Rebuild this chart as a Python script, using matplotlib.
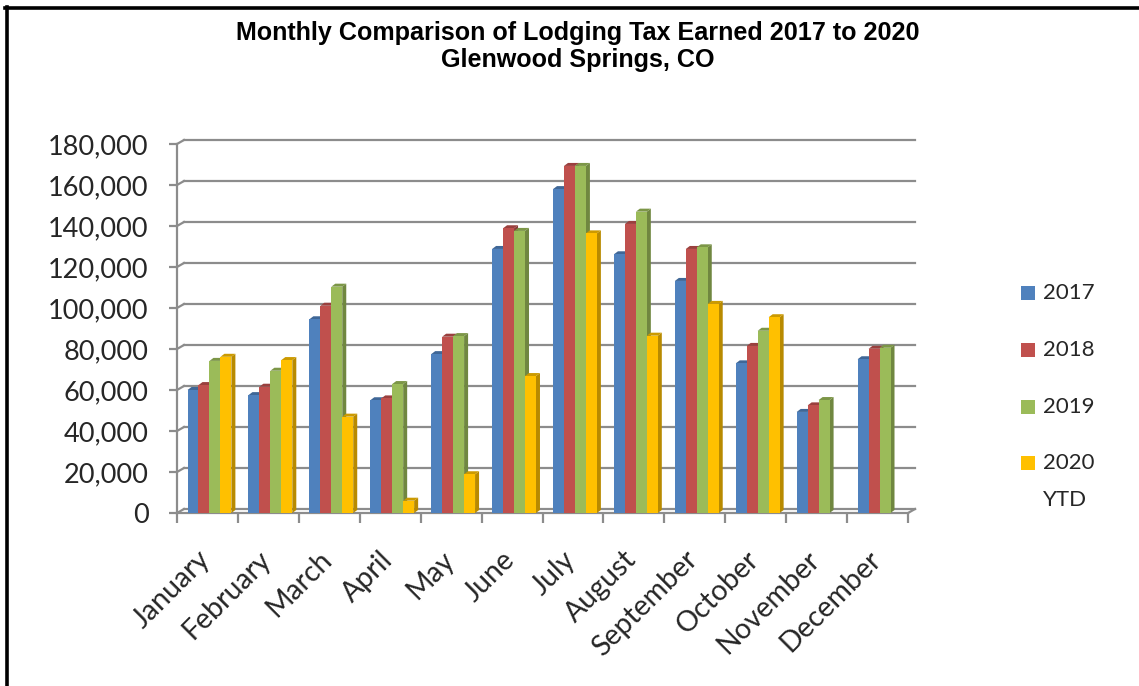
import matplotlib
matplotlib.use("Agg")
import matplotlib.pyplot as plt
import matplotlib.transforms as mtransforms
from matplotlib.patches import Polygon, Rectangle
from matplotlib.lines import Line2D
import numpy as np

# ---- data -------------------------------------------------------------
months = ["January", "February", "March", "April", "May", "June", "July",
          "August", "September", "October", "November", "December"]
series_labels = ["2017", "2018", "2019", "2020\nYTD"]
tax_2017 = [60000, 57500, 94500, 55000, 77500, 128800, 158000, 126200,
            113200, 73000, 49300, 75000]
tax_2018 = [62400, 61600, 101100, 55900, 86000, 138900, 169300, 141000,
            128800, 81500, 52500, 80100]
tax_2019 = [74200, 69400, 110400, 62900, 86300, 137600, 169300, 147000,
            129600, 88900, 55100, 80600]
tax_2020 = [76200, 74600, 47000, 6000, 18900, 66800, 136400, 86500,
            102000, 95500, None, None]
yticks = list(range(0, 180001, 20000))

series = [tax_2017, tax_2018, tax_2019, tax_2020]
colors = ["#4F81BD", "#C0504D", "#9BBB59", "#FFC000"]

# ---- figure / axes ------------------------------------------------------
W, H, DPI = 1139, 686, 100
fig = plt.figure(figsize=(W / DPI, H / DPI), dpi=DPI)
fig.patch.set_facecolor("white")

ax_l, ax_r, ax_b, ax_t = 177, 908, 513, 144   # pixel edges of front plane
ax = fig.add_axes([ax_l / W, 1 - ax_b / H, (ax_r - ax_l) / W, (ax_b - ax_t) / H])
ax.set_xlim(-0.5, len(months) - 0.5)
ax.set_ylim(0, 180000)
ax.patch.set_visible(False)

# pixel -> data conversion for the 3-D depth effect
px_x = (len(months)) / (ax_r - ax_l)
px_y = 180000 / (ax_b - ax_t)
wall_dx, wall_dy = 7 * px_x, 4 * px_y      # back-wall offset
bar_dx, bar_dy = 4 * px_x, 3 * px_y        # bar depth offset

grid_c = "#8C8C8C"
grid_lw = 1.6

# back-wall gridlines and left-wall diagonals
x0, x1 = -0.5, len(months) - 0.5
for v in yticks:
    ax.add_line(Line2D([x0 + wall_dx, x1 + wall_dx], [v + wall_dy] * 2,
                       color=grid_c, lw=grid_lw, zorder=1, clip_on=False))
    ax.add_line(Line2D([x0, x0 + wall_dx], [v, v + wall_dy],
                       color=grid_c, lw=grid_lw, zorder=1, clip_on=False))
# floor right edge
ax.add_line(Line2D([x1, x1 + wall_dx], [0, wall_dy], color=grid_c,
                   lw=grid_lw, zorder=1, clip_on=False))


def shade(hex_color, f):
    c = np.array(matplotlib.colors.to_rgb(hex_color))
    return tuple(c * f)


# ---- bars ---------------------------------------------------------------
n = len(series)
bw = 0.18
shift = 2 * px_x
x = np.arange(len(months))
for i in range(len(months)):
    for j, vals in enumerate(series):
        v = vals[i]
        if v is None:
            continue
        left = x[i] - n * bw / 2 + j * bw + shift
        right = left + bw
        z = 3 + i * 0.1 + j * 0.01
        side = Polygon([(right, 0), (right + bar_dx, bar_dy),
                        (right + bar_dx, v + bar_dy), (right, v)],
                       closed=True, facecolor=shade(colors[j], 0.72),
                       edgecolor="none", zorder=z)
        top = Polygon([(left, v), (left + bar_dx, v + bar_dy),
                       (right + bar_dx, v + bar_dy), (right, v)],
                      closed=True, facecolor=shade(colors[j], 0.8),
                      edgecolor="none", zorder=z)
        ax.add_patch(side)
        ax.add_patch(top)
        ax.bar(left, v, width=bw, align="edge", color=colors[j],
               edgecolor="none", zorder=z + 0.001)

# ---- axes styling -------------------------------------------------------
for s in ["top", "right"]:
    ax.spines[s].set_visible(False)
for s in ["left", "bottom"]:
    ax.spines[s].set_color(grid_c)
    ax.spines[s].set_linewidth(grid_lw)
    ax.spines[s].set_zorder(2)

ytick_font = dict(family="Lato", size=19.5, color="#262626")
ax.set_yticks(yticks)
ax.set_yticklabels([f"{v:,}" for v in yticks], fontdict=ytick_font)
ax.tick_params(axis="y", length=6, width=grid_lw, color=grid_c, pad=14.5)

xtick_font = dict(family="Lato", size=20.5, color="#262626")
ax.set_xticks(x)
ax.set_xticklabels(months, fontdict=xtick_font, rotation=45,
                   ha="right", va="top")
ax.tick_params(axis="x", which="major", length=0, pad=24)
label_shift = mtransforms.ScaledTranslation(8 / DPI, 0, fig.dpi_scale_trans)
for lbl in ax.get_xticklabels():
    lbl.set_transform(lbl.get_transform() + label_shift)
ax.set_xticks(np.arange(len(months) + 1) - 0.5, minor=True)
ax.tick_params(axis="x", which="minor", length=7, width=grid_lw,
               color=grid_c)

# ---- title --------------------------------------------------------------
fig.text(578 / W, 1 - 33 / H, "Monthly Comparison of Lodging Tax Earned 2017 to 2020",
         ha="center", va="center", family="Liberation Sans",
         weight="bold", size=18.1)
fig.text(578 / W, 1 - 60 / H, "Glenwood Springs, CO", ha="center",
         va="center", family="Liberation Sans", weight="bold", size=18.1)

# ---- legend -------------------------------------------------------------
leg_y = [293, 350, 407, 463]
for lab, c, yy in zip(series_labels, colors, leg_y):
    fig.patches.append(Rectangle(((1021) / W, 1 - (yy + 7) / H), 14 / W,
                                 14 / H, transform=fig.transFigure,
                                 facecolor=c, edgecolor="none"))
    for k, line in enumerate(lab.split("\n")):
        fig.text(1043 / W, 1 - (yy + k * 37) / H, line, ha="left",
                 va="center", family="Lato", size=16, color="#262626")

# ---- outer frame (top and left) ----------------------------------------
fig.add_artist(Line2D([5 / W, 1], [1 - 8 / H, 1 - 8 / H], color="black",
                      lw=2.6, transform=fig.transFigure))
fig.add_artist(Line2D([6.5 / W, 6.5 / W], [0, 1 - 6.5 / H], color="black",
                      lw=2.6, transform=fig.transFigure))

fig.savefig("out.png", dpi=DPI)
